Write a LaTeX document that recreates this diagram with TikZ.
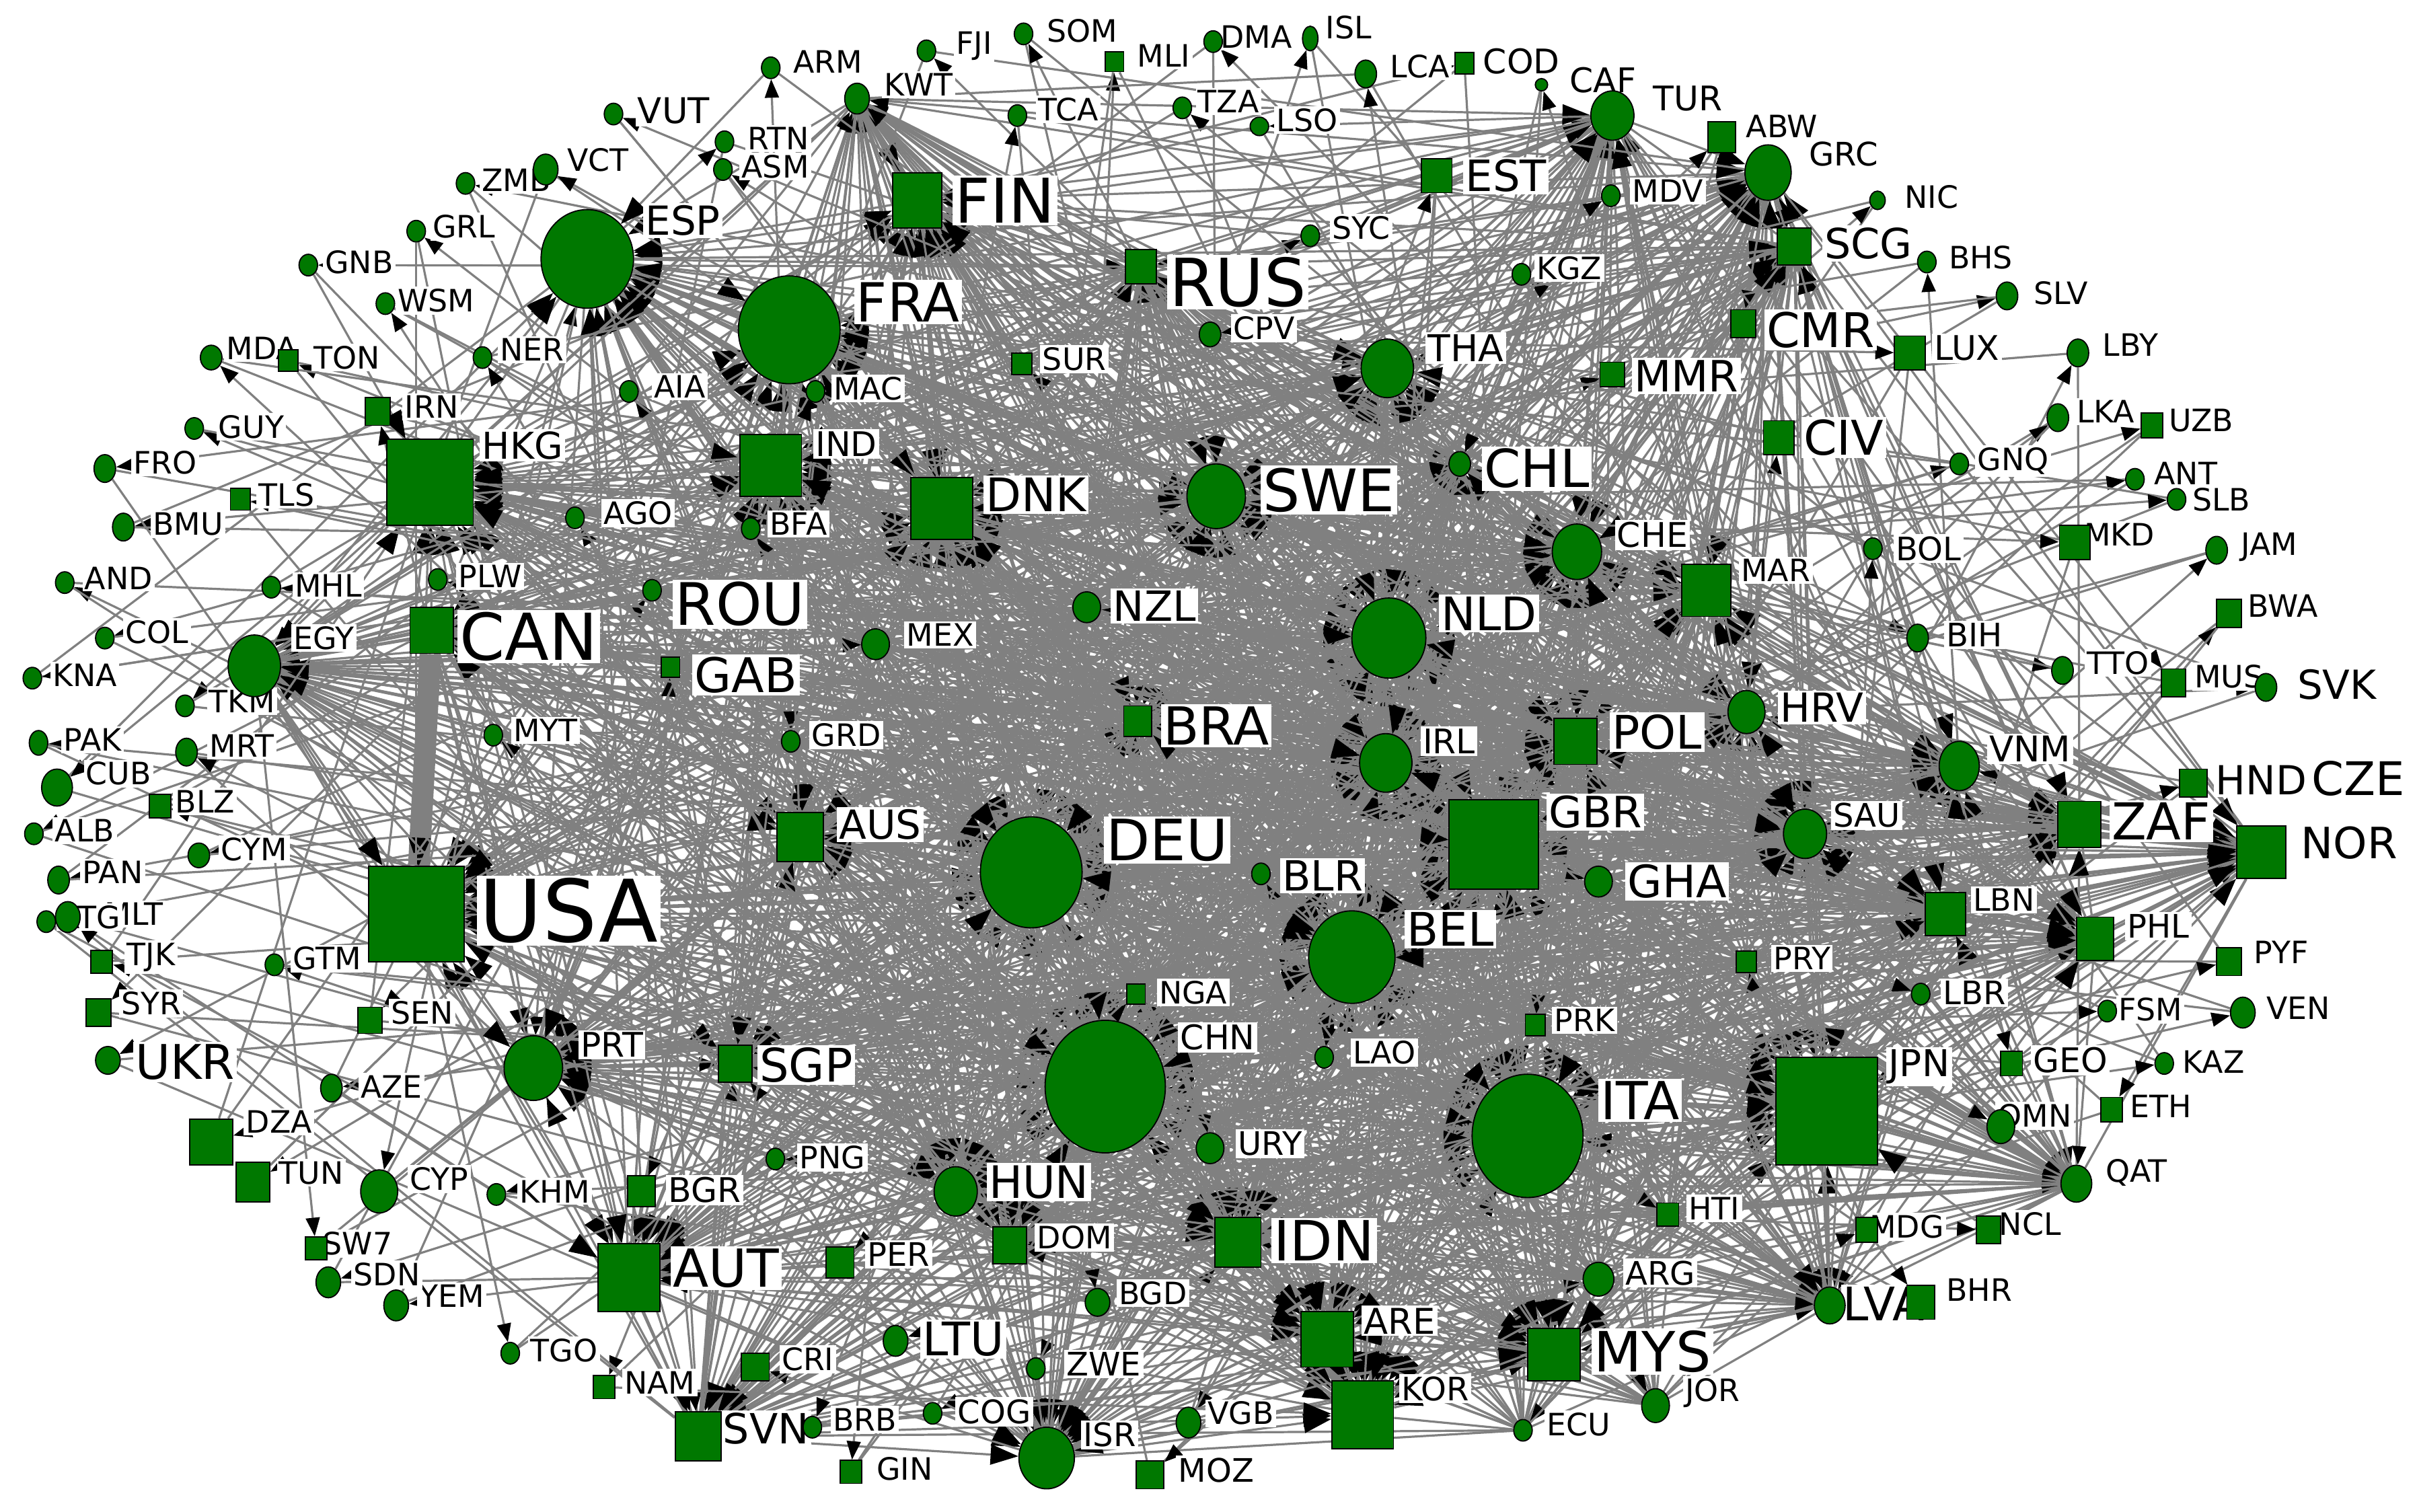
\documentclass[tikz,border=0pt]{standalone}
\usepackage{fontspec}
\setmainfont{DejaVu Sans}
\usetikzlibrary{shapes.geometric,arrows.meta,backgrounds}
\definecolor{ng}{RGB}{0,120,0}
\tikzset{
 edge/.style={draw=gray,line width=1.4pt},
 arr/.style={-{Triangle[length=12pt,width=9pt,color=black]}},
 bigarr/.style={-{Triangle[length=18pt,width=13pt,color=black]}},
 cn/.style={ellipse,draw=black,fill=ng,inner sep=0pt,line width=0.8pt},
 sn/.style={rectangle,draw=black,fill=ng,inner sep=0pt,line width=0.8pt},
 lab/.style={fill=white,inner sep=1.5pt,text=black},
}
\def\hublist{DEU/c/669/566/66/72/757/545/37,
CHN/c/717/705/78/86/790/673/22,
ITA/c/991/737/72/80/1064/714/34,
JPN/s/1185/721/66/70/1245/692/24,
USA/s/270/593/62/62/369/591/56,
GBR/s/969/548/58/58/1035/527/28,
FRA/c/512/214/66/70/589/196/35,
BEL/c/877/621/56/60/941/603/30,
NLD/c/901/414/48/52/966/398/30,
ESP/c/381/168/60/64/443/143/26,
HKG/s/279/313/56/56/339/289/24,
IRL/c/899/495/34/38/940/481/22,
SWE/c/789/322/38/42/862/318/38,
DNK/s/611/330/40/40/672/321/30,
IND/s/500/302/40/40/549/288/22,
FIN/s/595/130/32/36/652/130/40,
PRT/c/346/693/38/42/397/678/22,
AUT/s/408/829/40/44/471/823/34,
KOR/s/884/918/40/44/931/901/21,
MYS/s/1008/879/34/34/1072/877/36,
THA/c/900/239/34/38/951/226/24,
CHE/c/1023/358/32/36/1072/347/22,
SAU/c/1171/541/28/32/1211/529/21,
ARE/s/861/869/34/36/908/857/23,
ISR/c/679/946/36/40/720/931/21,
GRC/c/1147/112/30/36/1196/100/21,
ZAF/s/1349/535/28/30/1402/533/33,
NOR/s/1467/553/32/34/1524/547/28,
MAR/s/1107/383/32/34/1152/370/20,
IDN/s/803/806/30/32/859/805/36,
VNM/c/1271/497/26/32/1317/486/23,
HUN/c/620/773/28/32/674/767/29,
SVN/s/453/932/30/32/497/927/27,
POL/s/1022/481/28/30/1075/475/30,
CAN/s/280/409/28/30/343/413/42,
AUS/s/519/543/30/32/571/535/26,
LBN/s/1262/593/26/28/1300/584/20,
PHL/s/1359/609/24/28/1400/601/21,
HRV/c/1133/462/24/28/1182/459/26,
TUR/c/1046/75/28/32/1095/64/22,
SCG/s/1164/160/22/24/1212/158/27,
SGP/s/477/690/22/24/523/691/30,
DOM/s/655/808/22/24/697/803/20,
EGY/c/165/432/34/40/210/414/20,
RUS/s/740/173/20/22/803/183/43,
BRA/s/738/468/18/20/789/471/34,
CHL/c/947/301/14/16/997/304/34,
LVA/c/1187/847/20/24/1222/846/30,
QAT/c/1347/768/20/24/1386/761/20,
KWT/c/556/64/16/20/596/55/20}
\def\perlist{ROU/c/423/383/12/14/480/392/38,
GAB/s/435/433/12/13/484/438/31,
NZL/c/705/394/18/20/749/393/27,
MEX/c/568/418/18/20/610/412/20,
GRD/c/513/481/12/14/549/477/20,
BLR/c/818/567/12/14/858/568/27,
NGA/s/737/645/12/13/774/644/20,
URY/c/785/745/18/20/824/742/21,
LAO/c/859/686/12/14/898/683/20,
PRK/s/996/665/13/14/1028/662/20,
GHA/c/1037/572/18/20/1088/572/29,
PRY/s/1133/624/13/14/1169/622/20,
HTI/s/1082/788/14/15/1112/784/20,
ARG/c/1037/830/20/22/1077/826/21,
ECU/c/988/928/12/14/1024/924/20,
JOR/c/1074/912/18/22/1111/904/20,
MMR/s/1046/243/16/16/1094/244/28,
CMR/s/1131/210/16/18/1181/214/31,
CIV/s/1154/284/20/22/1196/284/31,
EST/s/932/114/20/22/977/114/28,
SYC/c/850/153/12/14/883/148/20,
KGZ/c/987/178/12/14/1018/174/20,
CPV/c/785/217/14/16/820/213/20,
SUR/s/663/236/13/14/697/233/20,
MAC/c/529/254/12/14/563/252/20,
BFA/c/487/343/12/14/518/340/20,
AGO/c/373/336/12/14/414/333/20,
PLW/c/284/376/12/14/318/374/20,
MYT/c/320/477/12/14/354/474/20,
GTM/c/178/626/12/14/212/622/20,
SEN/s/240/662/16/17/274/657/20,
AZE/c/215/706/14/18/254/705/20,
UKR/c/70/688/16/18/120/689/31,
DZA/s/137/741/28/30/181/728/20,
TUN/s/164/767/22/26/202/761/20,
CYP/c/246/773/24/28/285/765/20,
KHM/c/322/775/12/14/360/773/20,
BGR/s/416/773/18/20/457/772/22,
PNG/c/503/752/12/14/540/751/20,
PER/s/545/819/18/20/583/814/21,
CRI/s/490/887/18/18/524/882/20,
LTU/c/581/870/16/20/625/869/30,
BRB/c/527/926/12/14/561/921/20,
GIN/s/552/955/14/15/587/953/20,
COG/c/605/917/12/14/645/916/21,
ZWE/c/672/888/12/14/716/885/21,
MOZ/s/746/957/18/18/789/954/21,
BGD/c/712/845/16/18/748/839/20,
VGB/c/771/923/16/20/805/917/20,
NAM/s/392/900/14/15/428/897/20,
TGO/c/331/878/12/14/366/876/20,
YEM/c/257/847/16/20/293/841/20,
SDN/c/213/832/16/20/251/827/20,
SW7/s/205/810/14/15/232/807/20,
SYR/s/64/657/16/18/98/651/20,
TJK/s/66/624/14/15/98/621/20,
MLT/c/44/595/16/20/87/593/20,
ATG/c/30/598/12/14/58/595/20,
PAN/c/38/571/14/18/73/566/20,
CYM/c/129/555/14/16/165/551/20,
ALB/c/22/541/12/14/55/539/20,
BLZ/s/104/523/14/15/133/520/20,
CUB/c/37/511/20/24/77/502/20,
MRT/c/121/488/14/18/157/484/20,
PAK/c/25/482/12/16/60/480/20,
TKM/c/120/458/12/14/157/455/20,
KNA/c/21/440/12/14/55/438/20,
COL/c/68/414/12/14/102/410/20,
MHL/c/176/381/12/14/213/380/20,
AND/c/42/378/12/14/77/375/20,
BMU/c/80/342/14/18/122/340/20,
TLS/s/156/324/13/14/186/321/20,
FRO/c/68/304/14/18/107/300/20,
GUY/c/126/278/12/14/163/277/20,
IRN/s/245/267/16/18/280/264/20,
AIA/c/408/254/12/14/441/251/20,
NER/c/313/232/12/14/345/227/20,
TON/s/187/234/13/14/225/232/20,
MDA/c/137/232/14/16/170/226/20,
WSM/c/250/197/12/14/283/195/20,
GNB/c/200/172/12/14/233/170/20,
GRL/c/270/150/12/14/301/147/20,
ZMB/c/302/119/12/14/335/117/20,
VCT/c/354/110/16/20/388/104/20,
VUT/c/398/74/12/14/437/72/23,
RTN/c/470/92/12/14/505/90/20,
ASM/c/469/110/12/14/503/108/20,
ARM/c/500/44/12/14/537/40/20,
FJI/c/601/33/12/14/632/30/20,
SOM/c/664/22/12/14/702/20/20,
MLI/s/723/40/12/13/755/36/20,
DMA/c/787/27/12/14/815/24/20,
ISL/c/850/25/10/16/875/18/20,
TCA/c/660/75/12/14/693/71/20,
TZA/c/767/70/12/14/797/66/20,
LSO/c/817/82/12/12/848/78/20,
LCA/c/886/48/14/18/921/43/20,
COD/s/950/41/12/14/987/40/22,
CAF/c/1000/55/8/8/1040/52/22,
ABW/s/1117/89/18/20/1156/82/20,
MDV/c/1045/127/12/14/1082/124/20,
NIC/c/1218/130/10/12/1253/128/20,
BHS/c/1250/170/12/14/1285/167/20,
SLV/c/1302/192/14/18/1337/190/20,
LUX/s/1239/229/20/22/1276/226/22,
LBY/c/1348/229/14/18/1382/224/20,
LKA/c/1335/271/14/18/1366/267/20,
UZB/s/1396/276/14/16/1428/273/20,
GNQ/c/1271/301/12/14/1306/299/20,
ANT/c/1385/311/12/14/1418/307/20,
SLB/c/1412/324/12/14/1441/324/20,
BOL/c/1215/356/12/14/1251/356/21,
MKD/s/1346/352/20/22/1375/347/20,
JAM/c/1438/357/14/18/1472/355/20,
BWA/s/1446/398/16/18/1481/393/20,
BIH/c/1244/414/14/18/1281/412/21,
TTO/c/1338/435/14/18/1374/430/20,
MUS/s/1410/443/16/18/1446/439/20,
SVK/c/1470/446/14/18/1516/444/26,
HND/s/1423/508/18/18/1467/506/26,
OMN/c/1298/731/18/22/1320/724/20,
ETH/s/1370/720/14/16/1402/718/20,
GEO/s/1305/690/14/16/1343/688/22,
KAZ/c/1404/690/12/14/1436/689/20,
FSM/c/1367/656/12/14/1395/655/20,
VEN/c/1455/657/16/20/1491/654/20,
PYF/s/1446/624/16/18/1480/618/20,
LBR/c/1246/645/12/14/1281/644/21,
MDG/s/1211/798/14/16/1237/796/20,
NCL/s/1290/798/16/18/1317/794/20,
BHR/s/1246/845/18/22/1284/837/20}
\begin{document}
\begin{tikzpicture}[x=1pt,y=-1pt]
\useasboundingbox (0,0) rectangle (1568,981);
% labels
\foreach \n/\s/\x/\y/\w/\h/\lx/\ly/\fs in \hublist {
  \node[lab] (\n-l) at (\lx,\ly) {\fontsize{\fs}{\fs}\selectfont \n};
}
\foreach \n/\s/\x/\y/\w/\h/\lx/\ly/\fs in \perlist {
  \node[lab] (\n-l) at (\lx,\ly) {\fontsize{\fs}{\fs}\selectfont \n};
}
\node[lab] (CZE-l) at (1530,505) {\fontsize{30}{30}\selectfont CZE};
% nodes
\foreach \n/\s/\x/\y/\w/\h/\lx/\ly/\fs [count=\i from 0] in \hublist {
  \if\s c
    \node[cn,alias=h\i,minimum width=\w,minimum height=\h] (\n) at (\x,\y) {};
  \else
    \node[sn,alias=h\i,minimum width=\w,minimum height=\h] (\n) at (\x,\y) {};
  \fi
}
\foreach \n/\s/\x/\y/\w/\h/\lx/\ly/\fs [count=\i from 0] in \perlist {
  \if\s c
    \node[cn,alias=p\i,minimum width=\w,minimum height=\h] (\n) at (\x,\y) {};
  \else
    \node[sn,alias=p\i,minimum width=\w,minimum height=\h] (\n) at (\x,\y) {};
  \fi
  \xdef\np{\i}
}
% edges
\begin{pgfonlayer}{background}
\fill[white] (0,0) rectangle (1568,981);
\draw[gray,line width=14pt] (CAN) -- (USA);
% central minor nodes tied to many hubs
\foreach \k in {0,...,15}{
  \foreach \j in {0,...,49}{
    \pgfmathtruncatemacro\rr{mod(\k+\j,2)}
    \ifnum\rr=0 \draw[edge] (p\k) -- (h\j); \fi
  }
}
\foreach \i in {0,...,48}{
  \pgfmathtruncatemacro\ip{\i+1}
  \foreach \j in {\ip,...,49}{
    \pgfmathtruncatemacro\rr{mod(\i+\j,4)}
    \ifnum\rr=1
      \draw[edge,arr] (h\i) -- (h\j);
    \else\ifnum\rr=3
      \draw[edge] (h\i) -- (h\j);
    \else
      \draw[edge,bigarr] (h\j) -- (h\i);
    \fi\fi
  }
}
\foreach \k in {0,...,\np}{
  \pgfmathtruncatemacro\ta{mod(\k*7,25)}
  \pgfmathtruncatemacro\tb{mod(\k*13+4,50)}
  \pgfmathtruncatemacro\tc{mod(\k*3+11,50)}
  \draw[edge,bigarr] (p\k) -- (h\ta);
  \draw[edge,arr] (h\tb) -- (p\k);
  \draw[edge] (p\k) -- (h\tc);
}
\end{pgfonlayer}
\end{tikzpicture}
\end{document}
